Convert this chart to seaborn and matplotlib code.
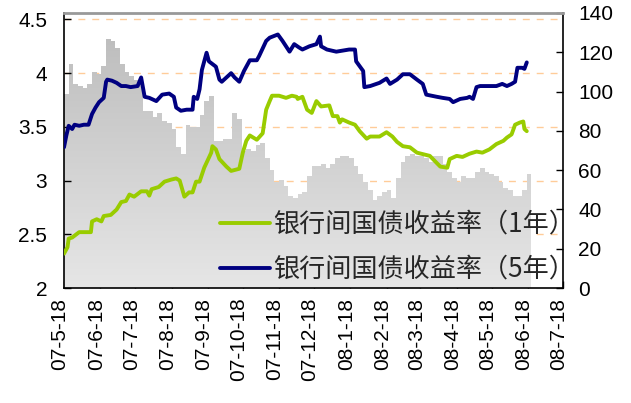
import numpy as np
import pandas as pd
import matplotlib
matplotlib.use("Agg")
import matplotlib.pyplot as plt
import matplotlib.dates as mdates
import matplotlib.transforms as mtransforms
from matplotlib.path import Path
from matplotlib.colors import LinearSegmentedColormap
import seaborn as sns

# ---------------- data ----------------
start_date = "2007-05-18"
end_date = "2008-07-18"

tick_dates = ["2007-05-18", "2007-06-18", "2007-07-18", "2007-08-18", "2007-09-18",
              "2007-10-18", "2007-11-18", "2007-12-18", "2008-01-18", "2008-02-18",
              "2008-03-18", "2008-04-18", "2008-05-18", "2008-06-18", "2008-07-18"]
tick_labels = ["07-5-18", "07-6-18", "07-7-18", "07-8-18", "07-9-18", "07-10-18",
               "07-11-18", "07-12-18", "08-1-18", "08-2-18", "08-3-18", "08-4-18",
               "08-5-18", "08-6-18", "08-7-18"]

# bars (right axis), one bar every 4 days from start_date
bar_step_days = 4
bar_values = [99, 114, 104, 103, 102, 104, 110, 109, 113, 127,
              126, 122, 114, 110, 108, 106, 104, 90, 90, 87,
              89, 85, 84, 81, 72, 68, 83, 82, 82, 88,
              95, 98, 75, 75, 76, 76, 89, 86, 70, 71,
              70, 73, 74, 66, 60, 54, 55, 52, 47, 46,
              48, 49, 57, 62, 62, 63, 61, 63, 66, 67,
              67, 66, 62, 58, 54, 50, 45, 47, 49, 50,
              46, 56, 64, 67, 68, 67, 67, 66, 64, 67,
              67, 63, 59, 56, 54, 57, 56, 56, 59, 61,
              59, 58, 57, 54, 51, 50, 47, 47, 50, 58]

# 1-year yield (left axis): day offsets from start_date and values
y1_days = [0, 3, 4, 7, 13, 23, 24, 28, 32, 34,
           40, 45, 49, 53, 56, 60, 66, 71, 73, 75,
           81, 86, 92, 96, 99, 103, 107, 110, 113, 116,
           120, 126, 127, 130, 133, 139, 143, 150, 153, 156,
           159, 165, 170, 173, 176, 178, 184, 190, 195, 199,
           200, 204, 208, 212, 216, 220, 227, 230, 234, 236,
           238, 244, 249, 253, 259, 262, 270, 276, 281, 285,
           290, 296, 302, 313, 322, 328, 330, 336, 341, 347,
           353, 358, 364, 370, 376, 379, 383, 386, 390, 393,
           394, 396]
y1_vals = [2.32, 2.38, 2.46, 2.47, 2.52, 2.52, 2.62, 2.64, 2.62, 2.67,
           2.68, 2.73, 2.80, 2.81, 2.87, 2.85, 2.90, 2.90, 2.86, 2.92,
           2.94, 2.99, 3.01, 3.02, 3.00, 2.85, 2.89, 2.89, 2.99, 2.99,
           3.12, 3.26, 3.32, 3.29, 3.20, 3.13, 3.09, 3.11, 3.26, 3.37,
           3.42, 3.38, 3.44, 3.66, 3.74, 3.79, 3.79, 3.77, 3.79, 3.78,
           3.76, 3.78, 3.66, 3.63, 3.74, 3.69, 3.70, 3.60, 3.60, 3.54,
           3.57, 3.54, 3.52, 3.46, 3.39, 3.41, 3.41, 3.45, 3.41, 3.36,
           3.32, 3.31, 3.26, 3.23, 3.13, 3.12, 3.20, 3.23, 3.22, 3.25,
           3.27, 3.26, 3.29, 3.34, 3.37, 3.40, 3.43, 3.52, 3.54, 3.55,
           3.48, 3.46]

# 5-year yield (left axis)
y5_days = [0, 2, 4, 7, 9, 13, 17, 21, 24, 27,
           30, 34, 36, 37, 41, 45, 49, 53, 57, 63,
           66, 69, 73, 79, 84, 90, 94, 96, 100, 105,
           110, 111, 114, 116, 118, 122, 124, 130, 133, 135,
           143, 146, 150, 154, 159, 165, 167, 173, 176, 183,
           187, 193, 197, 201, 204, 210, 216, 219, 220, 225,
           233, 244, 249, 250, 256, 257, 262, 270, 276, 279,
           285, 290, 296, 302, 307, 310, 319, 324, 330, 333,
           339, 345, 347, 350, 353, 356, 370, 375, 379, 383,
           386, 388, 392, 394, 396]
y5_vals = [3.31, 3.42, 3.51, 3.48, 3.52, 3.51, 3.52, 3.52, 3.62, 3.68,
           3.73, 3.77, 3.92, 3.94, 3.93, 3.91, 3.88, 3.88, 3.87, 3.88,
           3.96, 3.78, 3.77, 3.74, 3.80, 3.81, 3.78, 3.68, 3.65, 3.66,
           3.66, 3.78, 3.76, 3.85, 4.03, 4.19, 4.11, 4.06, 3.94, 3.92,
           4.00, 3.96, 3.92, 4.02, 4.12, 4.12, 4.16, 4.30, 4.33, 4.36,
           4.30, 4.20, 4.27, 4.24, 4.22, 4.25, 4.27, 4.34, 4.25, 4.22,
           4.20, 4.22, 4.22, 4.11, 4.02, 3.87, 3.88, 3.91, 3.95, 3.90,
           3.94, 3.99, 3.99, 3.94, 3.90, 3.80, 3.78, 3.77, 3.76, 3.73,
           3.76, 3.77, 3.78, 3.76, 3.87, 3.88, 3.88, 3.90, 3.88, 3.90,
           3.92, 4.05, 4.05, 4.04, 4.10]

legend_labels = ["银行间国债收益率（1年）", "银行间国债收益率（5年）"]
left_ticks = [2, 2.5, 3, 3.5, 4, 4.5]
left_tick_labels = ["2", "2.5", "3", "3.5", "4", "4.5"]
right_ticks = [0, 20, 40, 60, 80, 100, 120, 140]
grid_values = [2.5, 3, 3.5, 4, 4.5]

# ---------------- style ----------------
sns.set_style("white")
plt.rcParams["font.family"] = ["Liberation Sans", "Noto Sans CJK SC", "DejaVu Sans"]

W, H = 631, 403
fig = plt.figure(figsize=(W / 100, H / 100), dpi=100)
L, R, T, B = 64, 563, 13, 288
axb = fig.add_axes([L / W, 1 - B / H, (R - L) / W, (B - T) / H])
axl = axb.twinx()

start = pd.Timestamp(start_date)
end = pd.Timestamp(end_date)

# ---------------- bars with vertical gradient ----------------
bar_dates = start + pd.to_timedelta(np.arange(len(bar_values)) * bar_step_days, unit="D")
bar_x = mdates.date2num(bar_dates.to_pydatetime())
bars = axb.bar(bar_x, bar_values, width=bar_step_days, align="edge",
               color="none", linewidth=0)
paths = [p.get_path().transformed(p.get_patch_transform()) for p in bars.patches]
compound = Path.make_compound_path(*paths)
cmap = LinearSegmentedColormap.from_list("g", ["#e6e6e6", "#bababa"])
grad = np.linspace(0, 1, 256).reshape(-1, 1)
x0n, x1n = mdates.date2num(start.to_pydatetime()), mdates.date2num(end.to_pydatetime())
im = axb.imshow(grad, extent=[x0n, x1n, 0, 140], origin="lower", aspect="auto",
                cmap=cmap, zorder=1, interpolation="bilinear")
im.set_clip_path(compound, axb.transData)

axb.set_xlim(start, end)
axb.set_ylim(0, 140)
axl.set_ylim(2, 4.56)

# gridlines (left-axis values) drawn behind the bars
blend = mtransforms.blended_transform_factory(axb.transAxes, axl.transData)
for v in grid_values:
    axb.plot([0, 1], [v, v], transform=blend, color="#FFCC99", lw=1.0,
             ls=(0, (5, 5)), zorder=0.5)

# ---------------- lines ----------------
y1_dates = start + pd.to_timedelta(y1_days, unit="D")
y5_dates = start + pd.to_timedelta(y5_days, unit="D")
sns.lineplot(x=y1_dates, y=y1_vals, ax=axl, color="#99CC00", lw=2.8,
             label=legend_labels[0])
sns.lineplot(x=y5_dates, y=y5_vals, ax=axl, color="#000080", lw=2.8,
             label=legend_labels[1])
axl.set_xlim(start, end)
axl.set_xlabel("")
axl.set_ylabel("")
axb.set_xlabel("")
axb.set_ylabel("")

# ---------------- axes ----------------
axb.yaxis.tick_right()
axl.yaxis.tick_left()
axb.set_yticks(right_ticks)
axb.set_yticklabels([str(t) for t in right_ticks])
axl.set_yticks(left_ticks)
axl.set_yticklabels(left_tick_labels)
axb.set_xticks(pd.to_datetime(tick_dates))
axb.set_xticklabels(tick_labels, rotation=90)

axb.tick_params(axis="y", direction="in", length=5, width=1, labelsize=15, pad=11,
                right=True, left=False, labelright=True, labelleft=False, colors="black")
axb.tick_params(axis="x", direction="in", length=5, width=1, labelsize=15, pad=7,
                bottom=True, colors="black")
axl.tick_params(axis="y", direction="in", length=5, width=1, labelsize=15, pad=12,
                left=True, right=False, labelleft=True, labelright=False, colors="black")

offset = mtransforms.ScaledTranslation(-0.04, 0, fig.dpi_scale_trans)
for lab in axb.get_xticklabels():
    lab.set_transform(lab.get_transform() + offset)

for ax in (axb, axl):
    for s in ax.spines.values():
        s.set_visible(False)
axb.spines["left"].set_visible(True)
axb.spines["bottom"].set_visible(True)
axb.spines["right"].set_visible(True)
axb.spines["top"].set_visible(True)
for s in ("left", "bottom", "right"):
    axb.spines[s].set_color("black")
    axb.spines[s].set_linewidth(1.2)
axb.spines["top"].set_color("#999999")
axb.spines["top"].set_linewidth(2)

# ---------------- legend ----------------
leg = axl.legend(loc="upper left", bbox_to_anchor=(220 / W, 1 - 211 / H),
                 bbox_transform=fig.transFigure, frameon=False, borderpad=0,
                 borderaxespad=0, handlelength=1.9, handletextpad=0.15,
                 labelspacing=0.68,
                 prop={"family": ["Noto Sans CJK SC", "DejaVu Sans"], "size": 18.8})

fig.savefig("out.png", dpi=100)
